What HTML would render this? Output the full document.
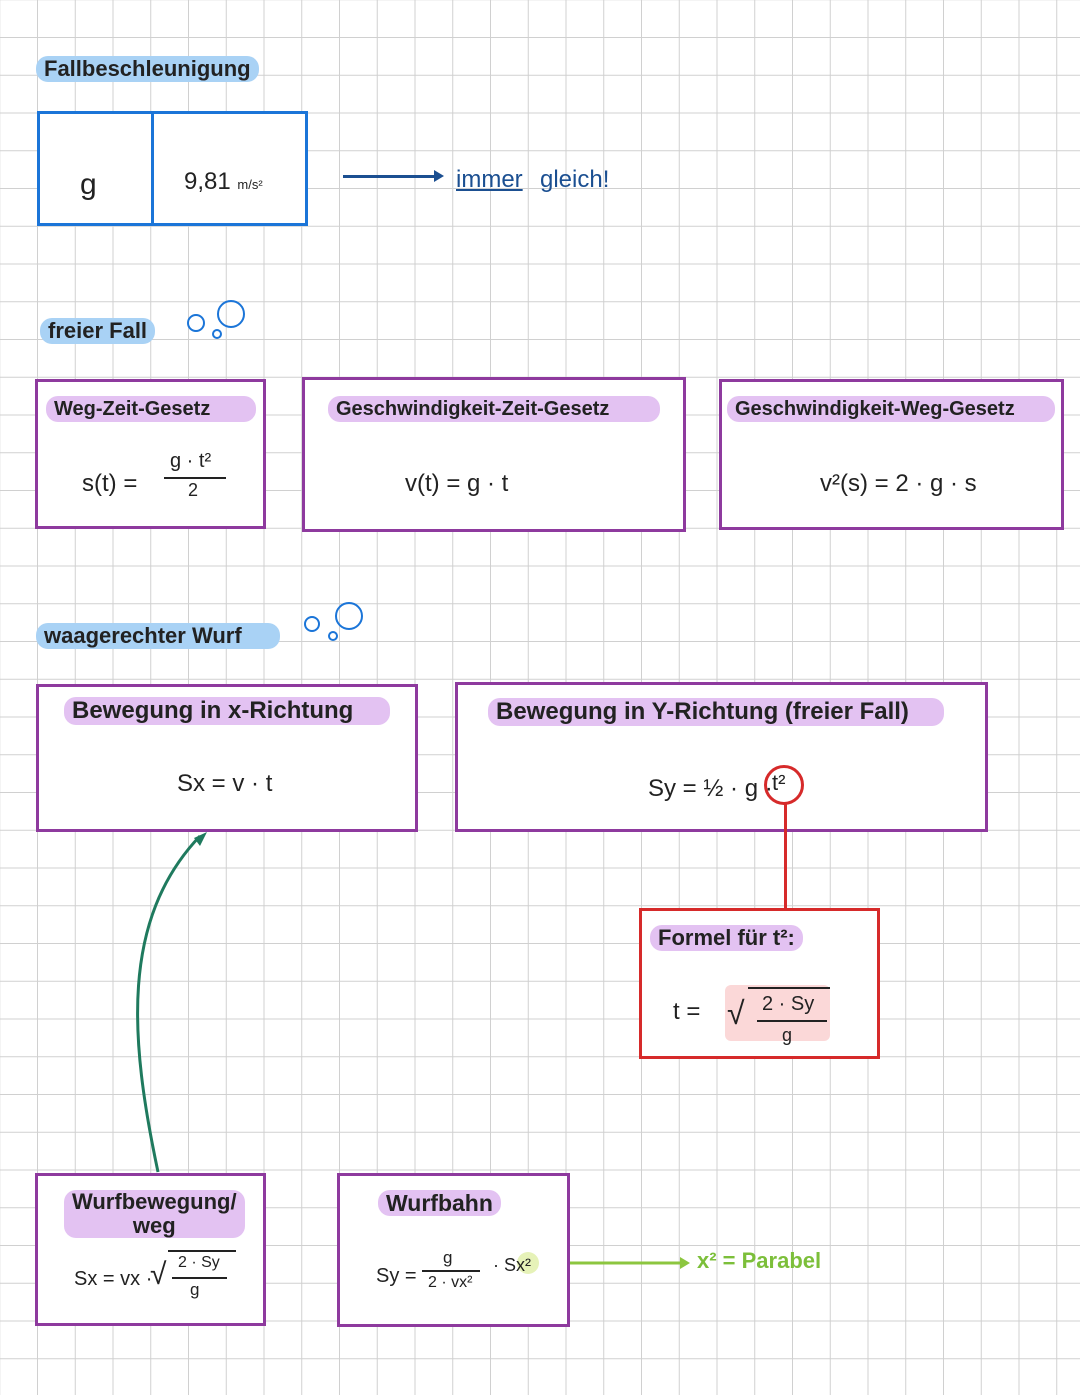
<!DOCTYPE html>
<html><head><meta charset="utf-8"><style>
body{margin:0;width:1080px;height:1395px;position:relative;overflow:hidden;background:#fff;
background-image:linear-gradient(to right,#d0d0d0 1.2px,transparent 1.2px),linear-gradient(to bottom,#d0d0d0 1.2px,transparent 1.2px);
background-size:37.75px 37.75px;background-position:37px 37px;font-family:"Liberation Sans",sans-serif;color:#222}
.a{position:absolute}
.box{position:absolute;box-sizing:border-box;border:3px solid #8e3a9e;background:#fff}
.hl{position:absolute;border-radius:12px;padding:0 8px;font-size:22px;font-weight:bold;line-height:26px;white-space:nowrap}
.blue{background:#a9d2f5}.pur{background:#e3c2f2}
.t{position:absolute;font-size:24px;white-space:nowrap}
</style></head><body>
<div class="hl blue" style="left:36px;top:56px">Fallbeschleunigung</div>
<div class="box" style="left:37px;top:111px;width:271px;height:115px;border-color:#1b75d8;border-width:3px"></div>
<div class="a" style="left:151px;top:111px;width:3px;height:115px;background:#1b75d8"></div>
<div class="t" style="left:80px;top:168px;font-size:30px">g</div>
<div class="t" style="left:184px;top:168px">9,81 <span style="font-size:13px">m/s²</span></div>
<div class="a" style="left:343px;top:175px;width:95px;height:3px;background:#1b4f91"></div>
<div class="a" style="left:434px;top:170px;border-left:10px solid #1b4f91;border-top:6px solid transparent;border-bottom:6px solid transparent"></div>
<div class="t" style="left:456px;top:166px;color:#1b4f91;text-decoration:underline">immer</div>
<div class="t" style="left:540px;top:166px;color:#1b4f91">gleich!</div>

<div class="hl blue" style="left:40px;top:318px">freier Fall</div>
<div class="a" style="left:187px;top:314px;width:14px;height:14px;border:2.5px solid #1b75d8;border-radius:50%"></div>
<div class="a" style="left:212px;top:329px;width:6px;height:6px;border:2px solid #1b75d8;border-radius:50%"></div>
<div class="a" style="left:217px;top:300px;width:24px;height:24px;border:2.5px solid #1b75d8;border-radius:50%"></div>

<div class="box" style="left:35px;top:379px;width:231px;height:150px"></div>
<div class="hl pur" style="left:46px;top:396px;font-size:20px;width:194px">Weg-Zeit-Gesetz</div>
<div class="t" style="left:82px;top:470px">s(t) =</div>
<div class="t" style="left:170px;top:450px;font-size:20px">g · t²</div>
<div class="a" style="left:164px;top:477px;width:62px;height:2px;background:#222"></div>
<div class="t" style="left:188px;top:480px;font-size:18px">2</div>

<div class="box" style="left:302px;top:377px;width:384px;height:155px"></div>
<div class="hl pur" style="left:328px;top:396px;font-size:20px;width:316px">Geschwindigkeit-Zeit-Gesetz</div>
<div class="t" style="left:405px;top:470px">v(t) = g · t</div>

<div class="box" style="left:719px;top:379px;width:345px;height:151px"></div>
<div class="hl pur" style="left:727px;top:396px;font-size:20px;width:312px">Geschwindigkeit-Weg-Gesetz</div>
<div class="t" style="left:820px;top:470px">v²(s) = 2 · g · s</div>

<div class="hl blue" style="left:36px;top:623px;width:228px">waagerechter Wurf</div>
<div class="a" style="left:304px;top:616px;width:12px;height:12px;border:2.5px solid #1b75d8;border-radius:50%"></div>
<div class="a" style="left:328px;top:631px;width:6px;height:6px;border:2px solid #1b75d8;border-radius:50%"></div>
<div class="a" style="left:335px;top:602px;width:24px;height:24px;border:2.5px solid #1b75d8;border-radius:50%"></div>

<div class="box" style="left:36px;top:684px;width:382px;height:148px"></div>
<div class="hl pur" style="left:64px;top:697px;font-size:24px;line-height:28px;width:310px">Bewegung in x-Richtung</div>
<div class="t" style="left:177px;top:770px">Sx = v · t</div>

<div class="box" style="left:455px;top:682px;width:533px;height:150px"></div>
<div class="hl pur" style="left:488px;top:698px;font-size:24px;line-height:28px;width:440px">Bewegung in Y-Richtung (freier Fall)</div>
<div class="t" style="left:648px;top:775px">Sy = ½ · g ·</div>
<div class="a" style="left:764px;top:765px;width:34px;height:34px;border:3px solid #d62a2a;border-radius:50%"></div>
<div class="t" style="left:772px;top:770px;font-size:22px">t²</div>
<div class="a" style="left:784px;top:802px;width:3px;height:108px;background:#d62a2a"></div>

<div class="box" style="left:639px;top:908px;width:241px;height:151px;border-color:#d62a2a"></div>
<div class="hl pur" style="left:650px;top:925px;font-size:22px">Formel für t²:</div>
<div class="t" style="left:673px;top:998px">t =</div>
<div class="a" style="left:725px;top:985px;width:105px;height:56px;background:#fbd8d8;border-radius:6px"></div>
<div class="t" style="left:727px;top:995px;font-size:32px">√</div>
<div class="a" style="left:748px;top:987px;width:82px;height:2px;background:#222"></div>
<div class="t" style="left:762px;top:993px;font-size:20px">2 · Sy</div>
<div class="a" style="left:757px;top:1020px;width:70px;height:2px;background:#222"></div>
<div class="t" style="left:782px;top:1025px;font-size:18px">g</div>

<svg class="a" style="left:0;top:0" width="1080" height="1395">
<path d="M158 1172 C130 1040 120 920 200 836" stroke="#1f7a5e" stroke-width="3" fill="none"/>
<polygon points="207,832 194,838 200,846" fill="#1f7a5e"/>
<line x1="538" y1="1263" x2="682" y2="1263" stroke="#8cc63f" stroke-width="3"/>
<polygon points="690,1263 680,1257 680,1269" fill="#8cc63f"/>
</svg>

<div class="box" style="left:35px;top:1173px;width:231px;height:153px"></div>
<div class="hl pur" style="left:64px;top:1190px;font-size:22px;line-height:24px;text-align:center">Wurfbewegung/<br>weg</div>
<div class="t" style="left:74px;top:1268px;font-size:20px">Sx = vx ·</div>
<div class="t" style="left:150px;top:1258px;font-size:30px">√</div>
<div class="a" style="left:168px;top:1250px;width:68px;height:2px;background:#222"></div>
<div class="t" style="left:178px;top:1254px;font-size:16px">2 · Sy</div>
<div class="a" style="left:172px;top:1277px;width:55px;height:2px;background:#222"></div>
<div class="t" style="left:190px;top:1280px;font-size:17px">g</div>

<div class="box" style="left:337px;top:1173px;width:233px;height:154px"></div>
<div class="hl pur" style="left:378px;top:1190px;font-size:23px">Wurfbahn</div>
<div class="t" style="left:376px;top:1265px;font-size:20px">Sy =</div>
<div class="t" style="left:443px;top:1248px;font-size:17px">g</div>
<div class="a" style="left:422px;top:1270px;width:58px;height:2px;background:#222"></div>
<div class="t" style="left:428px;top:1274px;font-size:16px">2 · vx²</div>
<div class="a" style="left:517px;top:1252px;width:22px;height:22px;background:#e6f2b8;border-radius:50%"></div>
<div class="t" style="left:493px;top:1255px;font-size:18px">· Sx²</div>
<div class="t" style="left:697px;top:1248px;font-size:22px;color:#7cbf3a;font-weight:bold">x² = Parabel</div>
</body></html>
